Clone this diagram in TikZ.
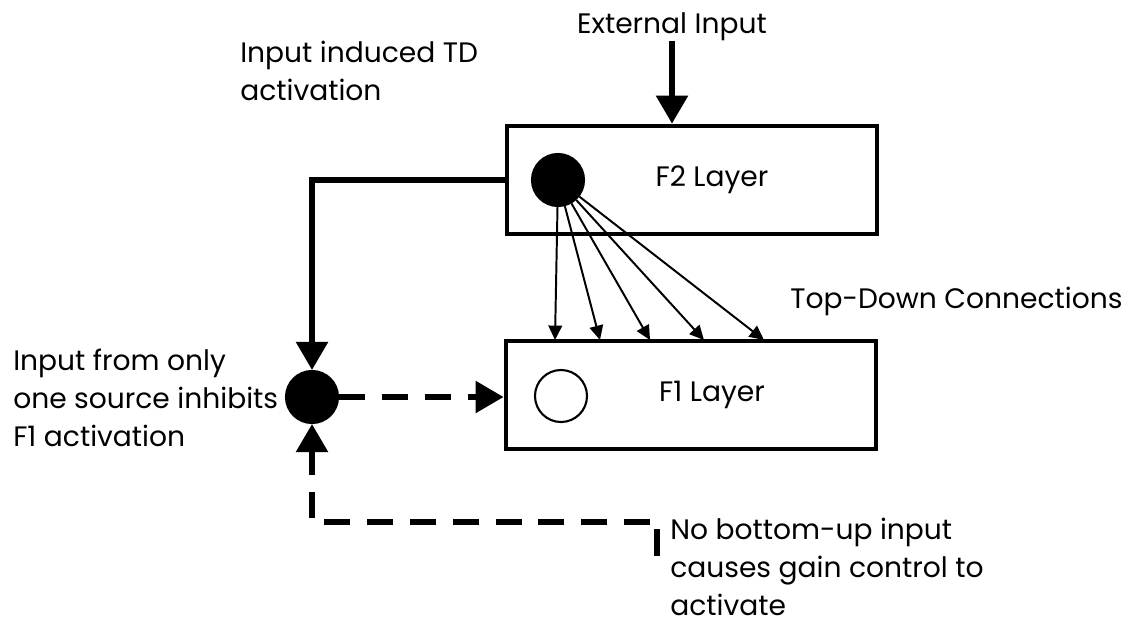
\documentclass[tikz,border=0pt]{standalone}
\usepackage{fontspec}
\setmainfont{Poppins}
\usetikzlibrary{arrows.meta,positioning,calc}

\begin{document}
\begin{tikzpicture}[x=0.025cm,y=-0.025cm,
    layer/.style={draw,line width=3.4pt,minimum width=9.25cm,minimum height=2.7cm},
    cell/.style={circle,draw,line width=1.5pt,minimum size=1.3cm,inner sep=0pt},
    lbl/.style={font=\fontsize{20}{27}\selectfont,align=left,inner sep=0pt},
    bigarrow/.style={line width=3.6pt,-{Triangle[length=0.7cm,width=0.78cm]}},
    fanarrow/.style={line width=1.4pt,-{Triangle[length=0.36cm,width=0.34cm]}},
    dashline/.style={line width=3.6pt,dash pattern=on 0.65cm off 0.42cm}]
  \useasboundingbox (0,0) rectangle (1136,626);
  % Layers
  \node[layer] (f2) at (692,180) {};
  \node[lbl] (f2txt) at (712,180) {F2 Layer};
  \node[layer] (f1) at (691,395) {};
  \node[lbl] (f1txt) at (712,395) {F1 Layer};
  % Cells
  \node[cell,fill=black] (f2cell) at (558,180) {};
  \node[cell] (f1cell) at (561,396) {};
  \node[cell,fill=black] (gain) at (312,397) {};
  % External input
  \node[lbl,anchor=base] (ext) at (672,33) {External Input};
  \draw[bigarrow] (ext.south) -- (f2.north -| ext.south);
  % Input induced TD activation (base = last line)
  \node[lbl,anchor=base west] (tdlbl) at (240,100) {Input induced TD\\activation};
  \draw[bigarrow] (f2.west) -| (gain);
  % Top-down connections
  \foreach \x [count=\i] in {555,600,650,704,764} {
    \coordinate (td\i) at (\x,340);
    \draw[fanarrow] (f2cell) -- (td\i);
  }
  \node[lbl,anchor=base west] (tdc) at (790,308) {Top-Down Connections};
  % Gain control
  \node[lbl,anchor=base west] (gainlbl) at (13,446) {Input from only\\one source inhibits\\F1 activation};
  \draw[dashline,-{Triangle[length=0.7cm,width=0.78cm]}] (gain.east) -- (f1.west |- gain.east);
  % No bottom-up input
  \coordinate (bu) at (650,522);
  \draw[dashline,-{Triangle[length=0.7cm,width=0.78cm]}] (bu) -| (gain);
  \draw[line width=3.6pt] (657,529) -- (657,556);
  \node[lbl,anchor=base west] (bulbl) at (670,615) {No bottom-up input\\causes gain control to\\activate};
\end{tikzpicture}
\end{document}
